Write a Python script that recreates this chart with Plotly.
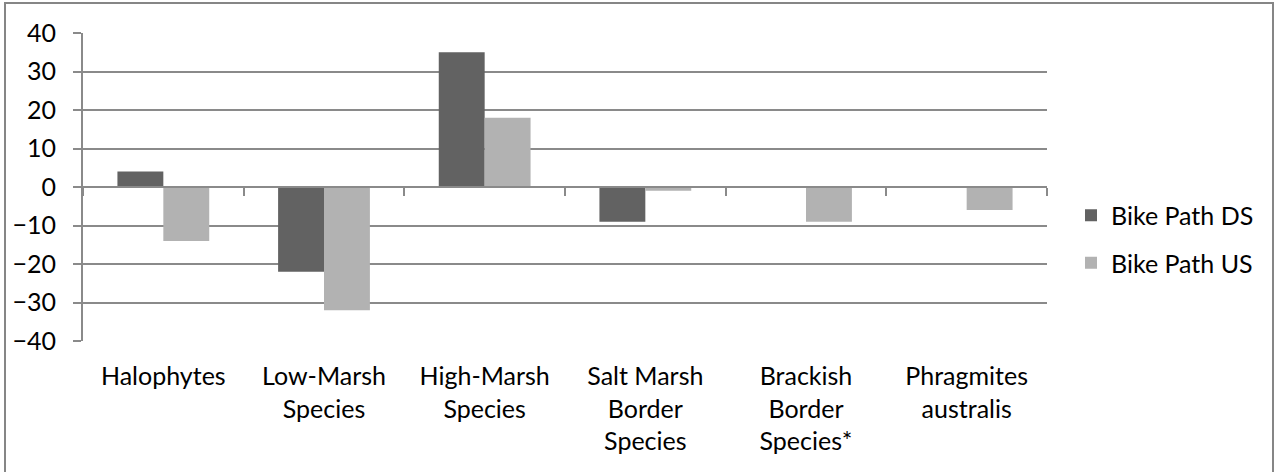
import plotly.graph_objects as go

# Category labels (multi-line, as shown on the axis)
categories = [
    "Halophytes",
    "Low-Marsh<br>Species",
    "High-Marsh<br>Species",
    "Salt Marsh<br>Border<br>Species",
    "Brackish<br>Border<br>Species*",
    "Phragmites<br>australis",
]

bike_path_ds = [4, -22, 35, -9, 0, 0]
bike_path_us = [-14, -32, 18, -1, -9, -6]

y_ticks = [-40, -30, -20, -10, 0, 10, 20, 30, 40]
boundary_ticks = [-0.5, 0.5, 1.5, 2.5, 3.5, 4.5, 5.5]

FONT = "Lato"
GRID = "#8a8a8a"
TEXT = "#000000"

W, H = 1274, 472
L, R, T, B = 83, 227, 33, 131

positions = list(range(len(categories)))

fig = go.Figure()
fig.add_trace(go.Bar(
    x=positions, y=bike_path_ds, name="Bike Path DS", legendgroup="ds",
    marker=dict(color="#626262", line=dict(width=0)),
))
fig.add_trace(go.Bar(
    x=positions, y=bike_path_us, name="Bike Path US", legendgroup="us",
    marker=dict(color="#b2b2b2", line=dict(width=0)),
))
# empty trace so the zero-crossing category axis gets drawn
fig.add_trace(go.Scatter(
    x=[], y=[], xaxis="x2", yaxis="y", showlegend=False, hoverinfo="skip",
))

plot_w = W - L - R
plot_h = H - T - B

fig.update_layout(
    width=W, height=H,
    margin=dict(l=L, r=R, t=T, b=B, pad=0),
    paper_bgcolor="white", plot_bgcolor="white",
    barmode="group", bargap=0.4286, bargroupgap=0,
    font=dict(family=FONT, size=25, color=TEXT),
    xaxis=dict(
        range=[-0.5, 5.5],
        tickmode="array", tickvals=positions, ticktext=categories,
        showline=False, showgrid=False, zeroline=False, ticks="",
        ticklabelstandoff=18,
        tickfont=dict(family=FONT, size=25, color=TEXT),
    ),
    # category axis line with boundary ticks, crossing the value axis at zero
    xaxis2=dict(
        overlaying="x", anchor="free", position=0.5, side="bottom",
        range=[-0.5, 5.5], tickmode="array", tickvals=boundary_ticks,
        showticklabels=False, ticks="outside", ticklen=8, tickwidth=2, tickcolor=GRID,
        showline=True, linecolor=GRID, linewidth=2,
        showgrid=False, zeroline=False,
    ),
    yaxis=dict(
        range=[-40, 40], tickmode="array", tickvals=y_ticks,
        showgrid=True, gridcolor=GRID, gridwidth=1.6,
        zeroline=False,
        showline=True, linecolor=GRID, linewidth=2,
        ticks="outside", ticklen=8, tickwidth=2, tickcolor=GRID,
        ticklabelstandoff=12,
        tickfont=dict(family=FONT, size=25, color=TEXT),
    ),
    legend=dict(
        x=(1071 - L) / plot_w, y=(H - B - 239) / plot_h,
        xanchor="left", yanchor="middle",
        font=dict(family=FONT, size=25, color=TEXT),
        bgcolor="rgba(0,0,0,0)", traceorder="grouped", tracegroupgap=12,
    ),
    shapes=[dict(
        type="rect", xref="paper", yref="paper",
        x0=(5 - L) / plot_w, x1=(1273 - L) / plot_w,
        y0=(H - B - (H + 5)) / plot_h, y1=(H - B - 3) / plot_h,
        line=dict(color="#868686", width=2), fillcolor="rgba(0,0,0,0)", layer="below",
    )],
)

fig.write_html("out.html")
